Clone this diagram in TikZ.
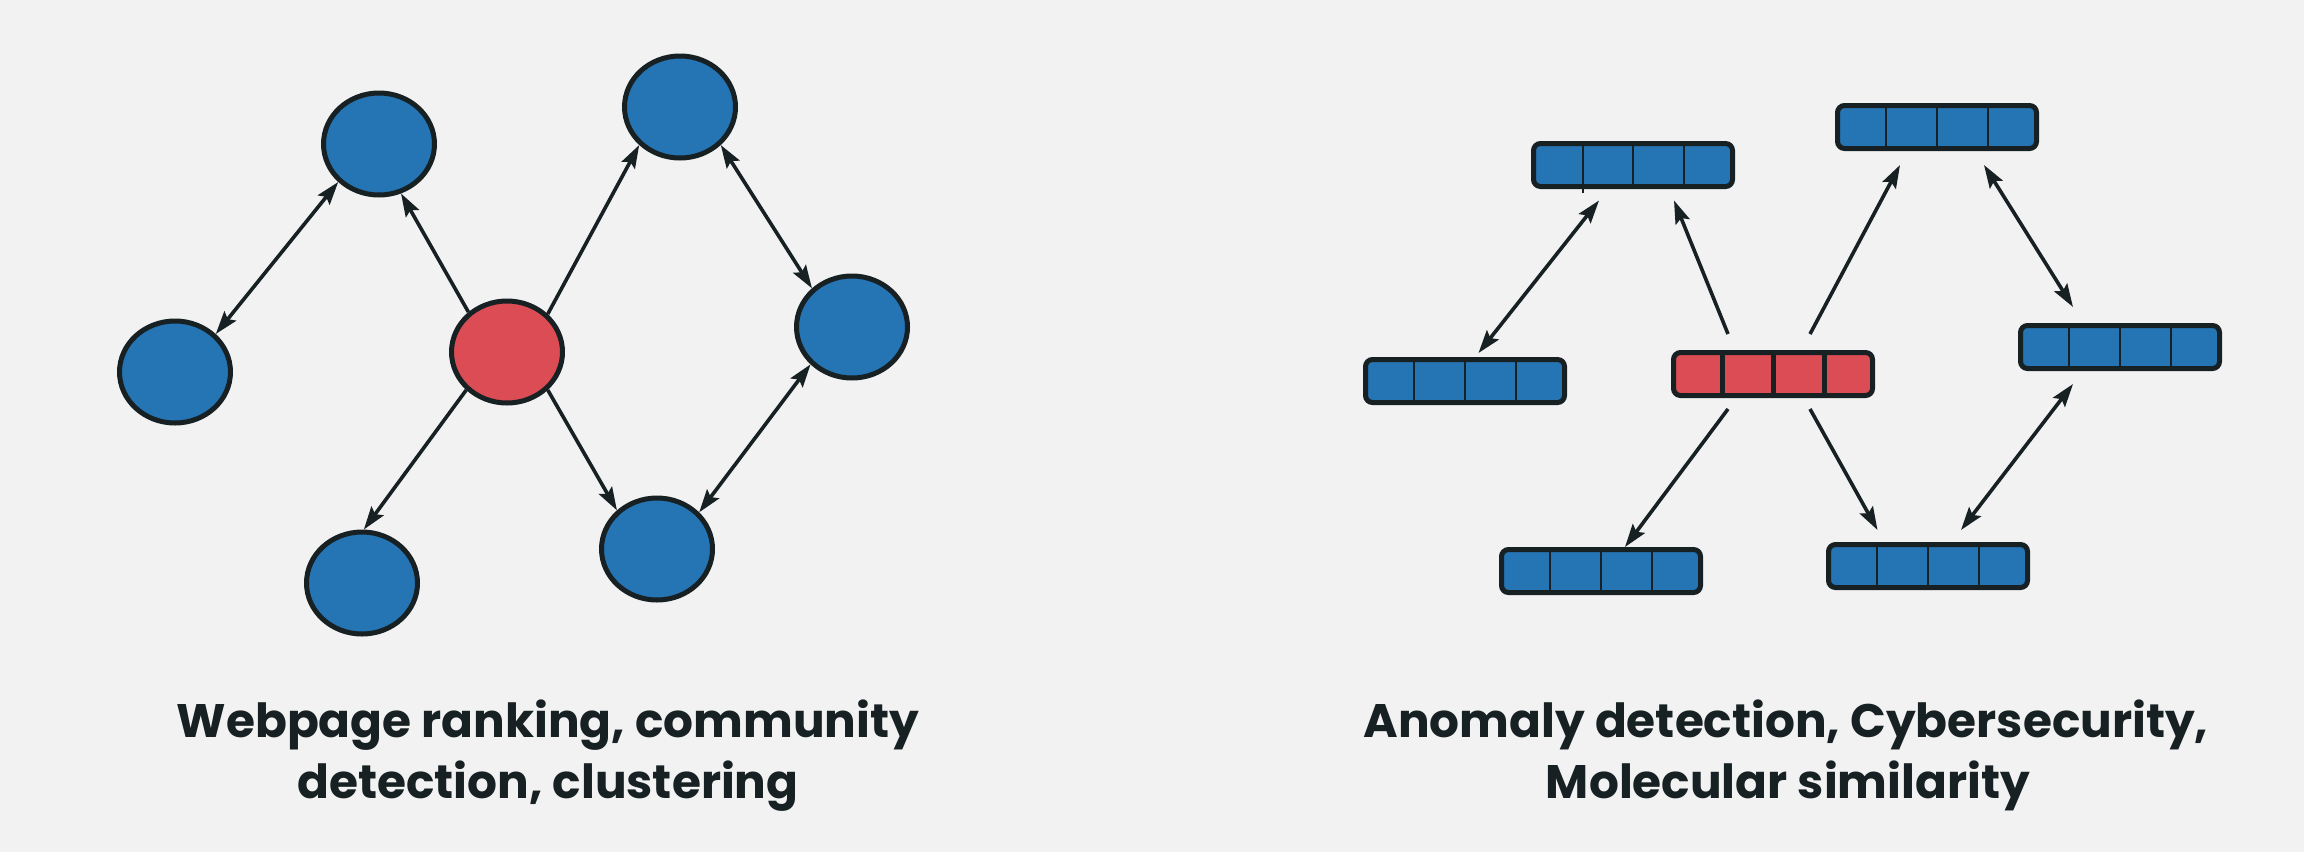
\documentclass[tikz,border=0pt]{standalone}
\usepackage{fontspec}
\setmainfont{Poppins}
\usetikzlibrary{shapes.geometric,arrows.meta,calc}
\definecolor{bg}{HTML}{F2F2F2}
\definecolor{nblue}{HTML}{2574B3}
\definecolor{nred}{HTML}{DB4C55}
\definecolor{ink}{HTML}{172022}
\newcommand\celldiv[2]{%
  \foreach \f in {0.25,0.5,0.75}
    \draw[ink, line width=#2] ($(#1.north west)!\f!(#1.north east)$) -- ($(#1.south west)!\f!(#1.south east)$);%
}
\begin{document}
\begin{tikzpicture}[x=1pt,y=-1pt,
  circ/.style={ellipse, draw=ink, line width=5pt, fill=nblue, minimum width=111pt, minimum height=102pt, inner sep=0pt},
  vec/.style={rectangle, rounded corners=7pt, draw=ink, line width=5pt, fill=nblue, minimum width=199pt, minimum height=43pt, inner sep=0pt},
  arr/.style={draw=ink, line width=3.6pt, -{Stealth[length=23pt,width=15pt,inset=4pt]}},
  darr/.style={draw=ink, line width=3.6pt, {Stealth[length=23pt,width=15pt,inset=4pt]}-{Stealth[length=23pt,width=15pt,inset=4pt]}},
  lbl/.style={font=\fontsize{47}{61}\selectfont\bfseries, text=ink, anchor=base, inner sep=0pt}
]
\fill[bg] (0,0) rectangle (2304,852);
\useasboundingbox (0,0) rectangle (2304,852);

% left graph
\node[circ] (A) at (379,144) {};
\node[circ] (B) at (175,372) {};
\node[circ, fill=nred] (C) at (507,352) {};
\node[circ] (D) at (680,107) {};
\node[circ] (E) at (852,327) {};
\node[circ] (F) at (657,549) {};
\node[circ] (G) at (362,583) {};

\draw[darr] (B.43) -- (A.223);
\draw[arr] (C.134) -- (A.-66);
\draw[arr] (C.43) -- (D.223);
\draw[darr] (D.-43) -- (E.136);
\draw[arr] (C.-137) -- (G.88);
\draw[arr] (C.-43) -- (F.136);
\draw[darr] (E.-138) -- (F.41);

% right graph
\node[vec] (R1) at (1633,165) {};
\node[vec] (R2) at (1937,127) {};
\node[vec] (L) at (1465,381) {};
\node[vec, fill=nred] (RC) at (1773,374) {};
\node[vec] (RR) at (2120,347) {};
\node[vec] (BL) at (1601,571) {};
\node[vec] (BR) at (1928,566) {};

\celldiv{R2}{2.3pt}
\celldiv{L}{2.3pt}
\celldiv{RC}{5pt}
\celldiv{RR}{2.3pt}
\celldiv{BL}{2.3pt}
\celldiv{BR}{2.3pt}
\draw[ink, line width=2.3pt] ([shift={(-50,-20)}]R1.center) -- ([shift={(-50,28)}]R1.center);
\draw[ink, line width=2.3pt] ([shift={(0,-24)}]R1.center) -- ([shift={(0,24)}]R1.center);
\draw[ink, line width=2.3pt] ([shift={(51,-24)}]R1.center) -- ([shift={(51,24)}]R1.center);

\draw[darr] ([shift={(13.5,-28)}]L.center) -- ([shift={(-34,35.5)}]R1.center);
\draw[arr] ([shift={(-45,-40)}]RC.center) -- ([shift={(41,35.5)}]R1.center);
\draw[arr] ([shift={(37,-40)}]RC.center) -- ([shift={(-37,38)}]R2.center);
\draw[darr] ([shift={(47,38)}]R2.center) -- ([shift={(-47,-40)}]RR.center);
\draw[arr] ([shift={(-45,35)}]RC.center) -- ([shift={(24,-24)}]BL.center);
\draw[arr] ([shift={(37,35)}]RC.center) -- ([shift={(-50.5,-36)}]BR.center);
\draw[darr] ([shift={(-47,37)}]RR.center) -- ([shift={(33,-36)}]BR.center);

% labels
\node[lbl] (t1a) at (548,737) {Webpage ranking, community};
\node[lbl] (t1b) at (548,798) {detection, clustering};
\node[lbl] (t2a) at (1786,737) {Anomaly detection, Cybersecurity,};
\node[lbl] (t2b) at (1788,798) {Molecular similarity};
\end{tikzpicture}
\end{document}
